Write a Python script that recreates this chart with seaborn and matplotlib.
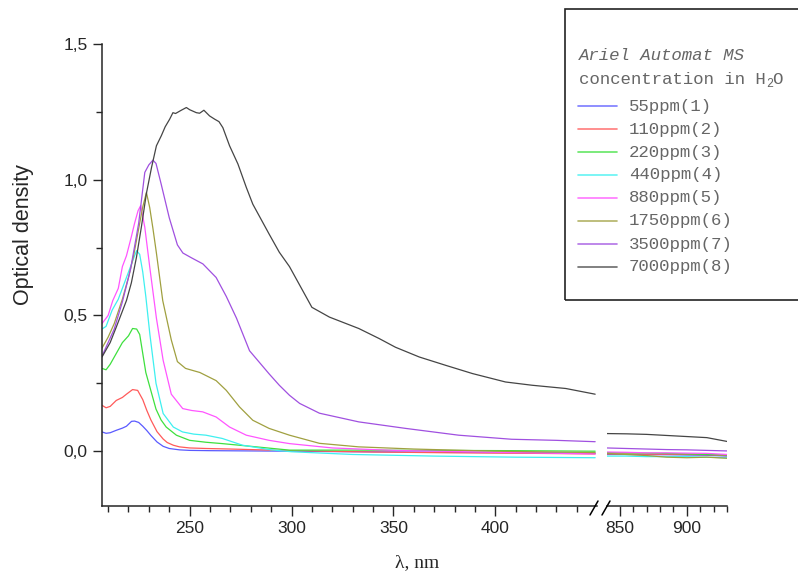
import numpy as np
import pandas as pd
import matplotlib
matplotlib.use("Agg")
import matplotlib.pyplot as plt
import seaborn as sns
from matplotlib.ticker import FixedLocator, FuncFormatter
from matplotlib.lines import Line2D
from matplotlib.patches import Rectangle

# ---------------- data ----------------
labels = ["55ppm(1)", "110ppm(2)", "220ppm(3)", "440ppm(4)",
          "880ppm(5)", "1750ppm(6)", "3500ppm(7)", "7000ppm(8)"]
colors = ["#5a5aff", "#ff5a5a", "#3ee03e", "#3ef0f0",
          "#ff55ff", "#a0a040", "#a050e0", "#454545"]

blue_nm = [207, 209, 211, 214, 217, 219, 221.5, 223, 225, 227, 229, 231, 234, 237, 240, 245, 250, 260, 280, 300, 330, 360, 400, 430, 449]
blue_od = [0.071, 0.066, 0.068, 0.077, 0.085, 0.092, 0.110, 0.111, 0.106, 0.092, 0.076, 0.058, 0.034, 0.018, 0.010, 0.005, 0.003, 0.002, 0.001, 0.000, -0.002, -0.003, -0.005, -0.006, -0.008]

red_nm = [207, 209, 211, 214, 217, 219, 222, 224.5, 227, 229, 231, 234, 237, 239, 242, 245, 250, 258, 270, 300, 340, 380, 420, 449]
red_od = [0.169, 0.160, 0.165, 0.187, 0.198, 0.210, 0.227, 0.224, 0.190, 0.150, 0.115, 0.072, 0.045, 0.032, 0.022, 0.016, 0.012, 0.010, 0.008, 0.002, -0.003, -0.006, -0.008, -0.010]

green_nm = [207, 209, 211, 214, 217, 220, 222, 224, 225.5, 227, 228.5, 230.5, 233.5, 236, 238.5, 243.5, 250, 258, 266, 280, 299, 330, 370, 410, 449]
green_od = [0.305, 0.300, 0.320, 0.360, 0.400, 0.425, 0.452, 0.450, 0.430, 0.360, 0.290, 0.236, 0.155, 0.115, 0.089, 0.059, 0.040, 0.033, 0.028, 0.018, 0.004, 0.004, 0.003, 0.002, 0.000]

cyan_nm = [207, 209, 212, 215, 218, 221, 223, 224, 225.5, 227, 228.5, 230.5, 233.5, 237, 242, 246.5, 252, 258, 266, 276, 290, 300, 330, 370, 410, 449]
cyan_od = [0.450, 0.460, 0.520, 0.560, 0.620, 0.680, 0.720, 0.739, 0.725, 0.660, 0.570, 0.430, 0.250, 0.139, 0.089, 0.071, 0.063, 0.059, 0.047, 0.022, 0.005, -0.002, -0.012, -0.018, -0.022, -0.024]

magenta_nm = [207, 210, 212.3, 215, 217, 219, 221.4, 223, 224.7, 226, 228, 230.4, 233.7, 237, 241, 246.6, 251, 256.4, 263, 269.6, 277.8, 289, 299, 320, 350, 400, 449]
magenta_od = [0.470, 0.500, 0.555, 0.600, 0.680, 0.720, 0.790, 0.840, 0.886, 0.905, 0.825, 0.680, 0.490, 0.335, 0.210, 0.157, 0.150, 0.145, 0.126, 0.089, 0.059, 0.040, 0.028, 0.012, 0.003, -0.004, -0.010]

olive_nm = [207, 210, 213, 217, 220, 222.5, 225, 227, 228.8, 230.4, 232, 233.7, 236.8, 241, 244, 248, 255, 263, 268, 274.5, 281, 289, 299, 313.7, 333, 360, 400, 449]
olive_od = [0.380, 0.420, 0.470, 0.560, 0.640, 0.720, 0.820, 0.900, 0.953, 0.898, 0.820, 0.730, 0.555, 0.410, 0.330, 0.305, 0.290, 0.260, 0.224, 0.163, 0.114, 0.084, 0.059, 0.029, 0.016, 0.008, 0.000, -0.005]

purple_nm = [207, 210, 213, 217, 221, 225, 228, 230, 232, 233.5, 236, 240, 244, 246.7, 251, 256.5, 263, 268, 273, 279.4, 289, 294, 299, 304, 313.7, 333, 356, 382, 408, 430, 449]
purple_od = [0.350, 0.400, 0.450, 0.550, 0.670, 0.840, 1.027, 1.055, 1.072, 1.060, 0.985, 0.860, 0.760, 0.730, 0.712, 0.690, 0.640, 0.570, 0.490, 0.370, 0.285, 0.243, 0.206, 0.176, 0.140, 0.108, 0.084, 0.059, 0.044, 0.040, 0.035]

black_nm = [207, 211, 214, 219, 221.4, 223.9, 226.3, 228.8, 231.3, 233.7, 236.1, 238, 240.2, 241.8, 243.1, 245.9, 248.4, 250, 253.3, 254.9, 257, 259.8, 262.3, 264.4, 266.3, 269.6, 273.7, 277.8, 281, 289, 294, 299, 310, 318.6, 333, 343, 351, 362.7, 375.8, 388.8, 405, 418, 434.6, 449]
black_od = [0.347, 0.400, 0.457, 0.555, 0.620, 0.714, 0.825, 0.950, 1.045, 1.125, 1.162, 1.195, 1.223, 1.247, 1.244, 1.256, 1.266, 1.258, 1.247, 1.245, 1.256, 1.235, 1.223, 1.214, 1.192, 1.125, 1.058, 0.972, 0.910, 0.800, 0.733, 0.680, 0.530, 0.494, 0.452, 0.415, 0.383, 0.347, 0.316, 0.286, 0.255, 0.243, 0.231, 0.210]

right_nm = [840, 855, 870, 885, 900, 915, 930]
blue_r = [-0.012, -0.012, -0.013, -0.013, -0.014, -0.015, -0.018]
red_r = [-0.010, -0.010, -0.011, -0.011, -0.012, -0.013, -0.016]
green_r = [-0.005, -0.006, -0.007, -0.008, -0.010, -0.012, -0.014]
cyan_r = [-0.018, -0.018, -0.020, -0.020, -0.020, -0.022, -0.024]
magenta_r = [-0.003, -0.004, -0.006, -0.006, -0.007, -0.008, -0.012]
olive_r = [-0.008, -0.012, -0.016, -0.022, -0.024, -0.022, -0.026]
purple_r = [0.012, 0.010, 0.008, 0.006, 0.005, 0.003, 0.001]
black_r = [0.065, 0.064, 0.062, 0.058, 0.054, 0.050, 0.036]

yticks = [0.0, 0.5, 1.0, 1.5]
left_major = [250, 300, 350, 400]
right_major = [850, 900]

left_sets = [(blue_nm, blue_od), (red_nm, red_od), (green_nm, green_od), (cyan_nm, cyan_od),
             (magenta_nm, magenta_od), (olive_nm, olive_od), (purple_nm, purple_od), (black_nm, black_od)]
right_sets = [blue_r, red_r, green_r, cyan_r, magenta_r, olive_r, purple_r, black_r]

rows_l = []
for lab, (xs, ys) in zip(labels, left_sets):
    for x, y in zip(xs, ys):
        rows_l.append((lab, x, y))
df_left = pd.DataFrame(rows_l, columns=["series", "nm", "od"])
rows_r = []
for lab, ys in zip(labels, right_sets):
    for x, y in zip(right_nm, ys):
        rows_r.append((lab, x, y))
df_right = pd.DataFrame(rows_r, columns=["series", "nm", "od"])

# ---------------- style ----------------
sns.set_style("ticks")
plt.rcParams["font.family"] = ["Liberation Sans", "DejaVu Sans"]
plt.rcParams["axes.linewidth"] = 1.1

W, H = 798, 581
fig = plt.figure(figsize=(W / 100, H / 100), dpi=100)
top_px, bot_px = 44, 505.5
axL = fig.add_axes([102 / W, 1 - bot_px / H, (597 - 102) / W, (bot_px - top_px) / H])
axR = fig.add_axes([607 / W, 1 - bot_px / H, (727 - 607) / W, (bot_px - top_px) / H])

palette = dict(zip(labels, colors))
sns.lineplot(data=df_left, x="nm", y="od", hue="series", hue_order=labels, palette=palette,
             estimator=None, legend=False, lw=0.9, ax=axL)
sns.lineplot(data=df_right, x="nm", y="od", hue="series", hue_order=labels, palette=palette,
             estimator=None, legend=False, lw=0.9, ax=axR)

for ax in (axL, axR):
    ax.set_ylim(-0.2, 1.5)
    ax.set_xlabel("")
    ax.set_ylabel("")
    ax.spines["top"].set_visible(False)
    ax.spines["right"].set_visible(False)
    ax.set_facecolor("white")
    ax.tick_params(axis="x", which="major", direction="out", length=7, width=1.0,
                   labelsize=12.5, pad=4)
    ax.tick_params(axis="x", which="minor", direction="out", length=4.3, width=1.0)

axL.set_xlim(207, 449.9)
axR.set_xlim(840.5, 930)
axL.xaxis.set_major_locator(FixedLocator(left_major))
axL.xaxis.set_minor_locator(FixedLocator([v for v in range(210, 450, 10) if v not in left_major]))
axR.xaxis.set_major_locator(FixedLocator(right_major))
axR.xaxis.set_minor_locator(FixedLocator([v for v in range(860, 931, 10) if v not in right_major]))

axL.yaxis.set_major_locator(FixedLocator(yticks))
axL.yaxis.set_minor_locator(FixedLocator([0.25, 0.75, 1.25]))
axL.yaxis.set_major_formatter(FuncFormatter(lambda v, p: f"{v:.1f}".replace(".", ",")))
axL.tick_params(axis="y", which="major", direction="out", length=6.5, width=1.0, labelsize=12.5, pad=4)
axL.tick_params(axis="y", which="minor", direction="out", length=4, width=1.0)

axR.spines["left"].set_visible(False)
axR.tick_params(axis="y", which="both", left=False, labelleft=False)

# break marks
for x0 in (590, 602):
    fig.add_artist(Line2D([x0 / W, (x0 + 8) / W], [1 - 515 / H, 1 - 501 / H],
                          transform=fig.transFigure, color="black", lw=1.1))

# axis labels
fig.text(24 / W, 1 - 235 / H, "Optical density", rotation=90, ha="center", va="center",
         fontsize=15.5, family=["Liberation Sans", "DejaVu Sans"])
fig.text(417 / W, 1 - 563 / H, "λ, nm", ha="center", va="center",
         fontsize=14, family=["Liberation Serif", "DejaVu Serif"])

# legend box
fig.add_artist(Rectangle((565 / W, 1 - 300 / H), (805 - 565) / W, (300 - 9) / H,
                         transform=fig.transFigure, fill=False, edgecolor="#222222", lw=1.2))
mono = ["Liberation Mono", "DejaVu Sans Mono"]
tcol = "#666666"
fs = 12.5
fig.text(579 / W, 1 - 55 / H, "Ariel Automat MS", family=mono, style="italic",
         fontsize=fs, color=tcol, va="center", ha="left")
t_conc = fig.text(579 / W, 1 - 79 / H, "concentration in H", family=mono,
                  fontsize=fs, color=tcol, va="center", ha="left")
fig.canvas.draw()
bb = t_conc.get_window_extent()
x_end = bb.x1
fig.text(x_end / W, 1 - 84 / H, "2", family=mono, fontsize=8.5, color=tcol, va="center", ha="left")
fig.text((x_end + 6) / W, 1 - 79 / H, "O", family=mono, fontsize=fs, color=tcol, va="center", ha="left")

row_y = [106, 129, 152, 175, 198, 221, 244, 267]
for yy, lab, col in zip(row_y, labels, colors):
    fig.add_artist(Line2D([578 / W, 617 / W], [1 - yy / H, 1 - yy / H],
                          transform=fig.transFigure, color=col, lw=1.2, alpha=0.8))
    fig.text(629 / W, 1 - yy / H, lab, family=mono, fontsize=fs, color=tcol, va="center", ha="left")

fig.savefig("out.png", dpi=100, facecolor="white")
